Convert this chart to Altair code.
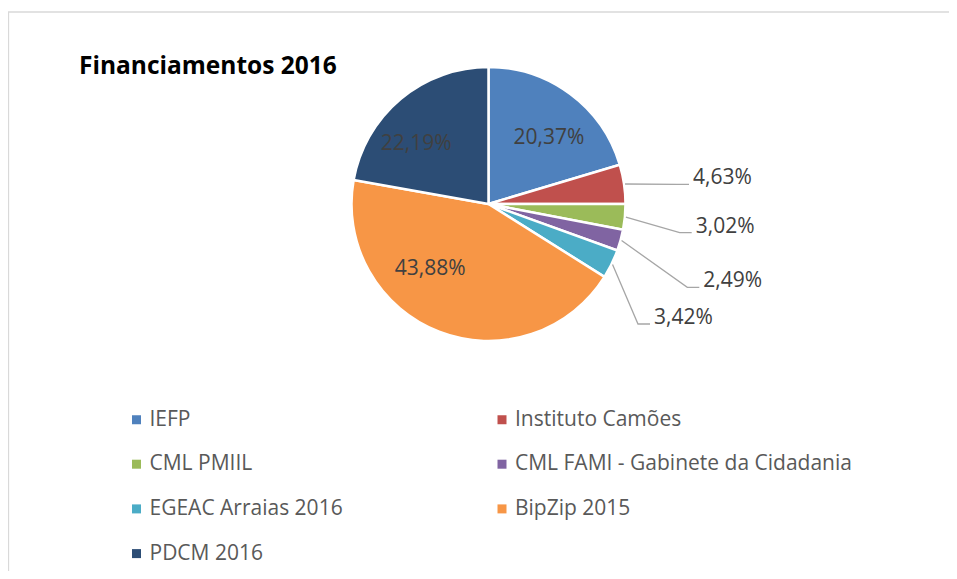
import math
import altair as alt
import pandas as pd

# ---- data ----
names = ["IEFP", "Instituto Camões", "CML PMIIL", "CML FAMI - Gabinete da Cidadania",
         "EGEAC Arraias 2016", "BipZip 2015", "PDCM 2016"]
values = [20.37, 4.63, 3.02, 2.49, 3.42, 43.88, 22.19]
labels = ["20,37%", "4,63%", "3,02%", "2,49%", "3,42%", "43,88%", "22,19%"]
colors = ["#4F81BD", "#C0504D", "#9BBB59", "#8064A2", "#4BACC6", "#F79646", "#2C4D75"]

# ---- layout / style ----
W, H = 941, 563
CX, CY, R = 480.5, 196, 137
FONT = "Open Sans"
inside = [True, False, False, False, False, True, True]
inside_shift = [5.8, 0, 0, 0, 0, 21.0, -10.4]      # degrees, label nudge
inside_r = [89.5, 0, 0, 0, 0, 87, 94]
out_dx = [0, 200.5, 203.2, 210.8, 161.5, 0, 0]     # leader end offset from centre
out_dy = [0, -19.7, 28.7, 83.3, 120.0, 0, 0]

total = sum(values)
cum = 0.0
slices, texts, lines = [], [], []
for i, (n, v, lab) in enumerate(zip(names, values, labels)):
    mid = (cum + v / 2) / total * 2 * math.pi
    cum += v
    slices.append({"name": n, "value": v, "idx": i})
    if inside[i]:
        a = mid + math.radians(inside_shift[i])
        texts.append({"label": lab, "x": CX + inside_r[i] * math.sin(a),
                      "y": CY - inside_r[i] * math.cos(a), "inside": 1})
    else:
        ex, ey = CX + out_dx[i], CY + out_dy[i]
        sx, sy = CX + 138 * math.sin(mid), CY - 138 * math.cos(mid)
        pts = [(sx, sy), (ex - 12, ey), (ex, ey)]
        for k, (px, py) in enumerate(pts):
            lines.append({"name": n, "k": k, "x": px, "y": py})
        texts.append({"label": lab, "x": ex + 4, "y": ey, "inside": 0})

df = pd.DataFrame(slices)
tdf = pd.DataFrame(texts)
ldf = pd.DataFrame(lines)

pie = alt.Chart(df).mark_arc(outerRadius=R, stroke="white", strokeWidth=2.5).encode(
    theta=alt.Theta("value:Q", stack=True),
    color=alt.Color("name:N", sort=names,
                    scale=alt.Scale(domain=names, range=colors),
                    legend=alt.Legend(title=None, orient="none", legendX=118, legendY=401,
                                      direction="horizontal", columns=2,
                                      symbolType="square", symbolSize=81,
                                      symbolStrokeWidth=0, labelFont=FONT, labelFontSize=21,
                                      labelColor="#595959", labelLimit=600, labelOffset=2.5,
                                      rowPadding=22.7, columnPadding=148.5, padding=0)),
    order=alt.Order("idx:Q"),
    x=alt.value(CX), y=alt.value(CY),
)

leaders = alt.Chart(ldf).mark_line(color="#A6A6A6", strokeWidth=1.3).encode(
    x=alt.X("x:Q", scale=None), y=alt.Y("y:Q", scale=None),
    detail="name:N", order="k:Q",
)

in_text = alt.Chart(tdf).transform_filter("datum.inside == 1").mark_text(
    font=FONT, fontSize=21, color="#404040", align="center", baseline="middle"
).encode(x=alt.X("x:Q", scale=None), y=alt.Y("y:Q", scale=None), text="label:N")

out_text = alt.Chart(tdf).transform_filter("datum.inside == 0").mark_text(
    font=FONT, fontSize=21, color="#404040", align="left", baseline="alphabetic"
).encode(x=alt.X("x:Q", scale=None), y=alt.Y("y:Q", scale=None), text="label:N")

title = alt.Chart(df.head(1)).mark_text(
    text="Financiamentos 2016", font=FONT, fontSize=24.5, fontWeight="bold",
    color="#000000", align="left", baseline="alphabetic"
).encode(x=alt.value(71), y=alt.value(66))

border_top = alt.Chart(df.head(1)).mark_rule(color="#D9D9D9", strokeWidth=1.3).encode(
    x=alt.value(0), x2=alt.value(W), y=alt.value(4))
border_left = alt.Chart(df.head(1)).mark_rule(color="#D9D9D9", strokeWidth=1.3).encode(
    x=alt.value(0.5), y=alt.value(4), y2=alt.value(H))

chart = alt.layer(border_top, border_left, pie, leaders, in_text, out_text, title).properties(
    width=W, height=H, padding=0, autosize=alt.AutoSizeParams(type="none")
).configure_view(stroke=None)

chart.save("out.html", embed_options={"renderer": "svg", "actions": False})
